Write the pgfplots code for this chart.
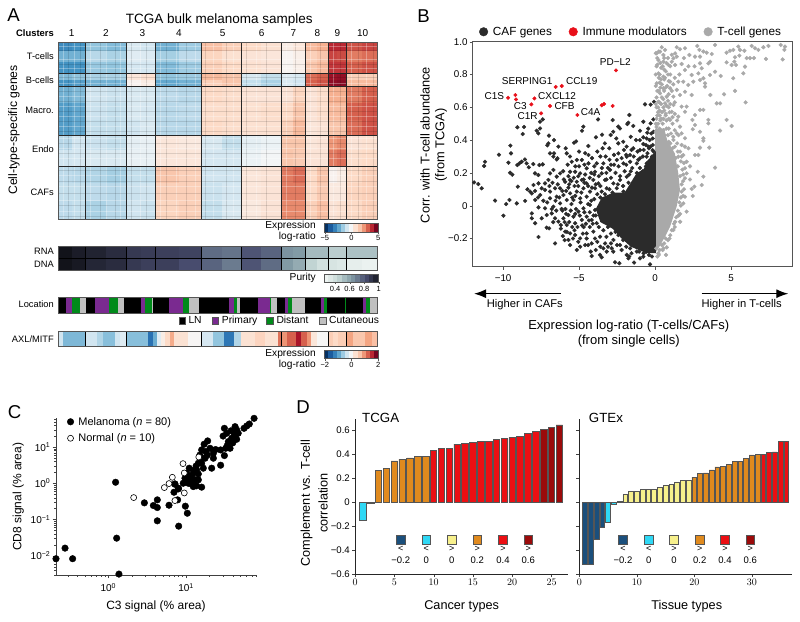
\documentclass[border=0pt]{standalone}
\usepackage{fontspec}
\setmainfont{Liberation Sans}
\usepackage{pgfplots}
\pgfplotsset{compat=1.18}
\usetikzlibrary{arrows.meta}
\definecolor{frame}{HTML}{555555}
\definecolor{caf}{HTML}{2B2B2B}
\definecolor{tcg}{HTML}{A9A9A9}
\definecolor{imm}{HTML}{E8101A}
\definecolor{cNavy}{HTML}{1B4F7C}
\definecolor{cCyan}{HTML}{2FD8F5}
\definecolor{cYel}{HTML}{F7F08C}
\definecolor{cOra}{HTML}{E08A1E}
\definecolor{cRed}{HTML}{EB0F13}
\definecolor{cDark}{HTML}{9B0A0A}
\definecolor{locP}{HTML}{7A2A90}
\definecolor{locG}{HTML}{008A1A}
\definecolor{locC}{HTML}{C0C0C0}
\pgfplotsset{
  colormap={rdbu}{rgb255=(5,48,97) rgb255=(33,102,172) rgb255=(67,147,195) rgb255=(146,197,222) rgb255=(209,229,240) rgb255=(247,247,247) rgb255=(253,219,199) rgb255=(244,165,130) rgb255=(214,96,77) rgb255=(178,24,43) rgb255=(103,0,31)},
  colormap={pur}{rgb255=(250,252,250) rgb255=(200,218,216) rgb255=(130,155,165) rgb255=(72,76,110) rgb255=(12,12,16)},
  base/.style={scale only axis, anchor=south west},
  band/.style={base, xtick=\empty, ytick=\empty, axis on top, axis line style={draw=frame, line width=.8pt}},
  cbar/.style={base, ytick=\empty, axis on top, axis line style={draw=frame, line width=.6pt}, xtick pos=bottom, tick align=outside, major tick length=2pt, tick style={draw=frame}, tick label style={font=\fontsize{7.5}{8}\selectfont, inner sep=1.5pt}, ymin=0, ymax=1},
  dbar/.style={ybar, bar width=.82, bar shift=0pt, fill=#1, draw=frame, line width=.7pt, forget plot},
  dax/.style={base, ymin=-.6, ymax=.6917, axis x line*=bottom, axis y line*=left, axis line style={-, draw=black!85, line width=.7pt}, tick align=outside, major tick length=3pt, tick style={draw=black!75}, tick label style={font=\fontsize{9.6}{10}\selectfont, inner sep=2pt}, ytick={-.6,-.4,-.2,0,.2,.4,.6}},
}
\newcommand\tx[6][]{\node[anchor=#4,inner sep=0pt,font=\fontsize{#5}{#5}\selectfont,#1] at (#2pt,{621pt-#3pt}) {#6};}
\begin{document}
\begin{tikzpicture}
\useasboundingbox (0,0) rectangle (800pt,621pt);
% ---------- panel A heat map ----------
\begin{axis}[band, at={(58.3pt,402pt)}, width=319.4pt, height=177pt, xmin=58.3, xmax=377.7, ymin=42, ymax=219, y dir=reverse, colormap name=rdbu, point meta min=-5, point meta max=5]
\addplot[surf, shader=flat corner, mesh/cols=21, point meta=explicit] table[row sep=\\, header=false, x index=0, y index=1, meta index=2]{
58.3 42 -3.2\\72 42 -3.0\\85.7 42 -2.0\\106.2 42 -2.2\\126.7 42 -0.8\\141.2 42 -1.0\\155.7 42 -2.4\\178.7 42 -1.8\\201.7 42 1.5\\221.7 42 1.2\\241.7 42 1.0\\261.4 42 0.8\\281 42 0.4\\293.4 42 0.6\\305.7 42 1.6\\317 42 1.8\\328.3 42 3.8\\337.5 42 3.8\\346.7 42 3.2\\362.2 42 3.4\\377.7 42 0\\
58.3 51 -2.4\\72 51 -2.4\\85.7 51 -1.4\\106.2 51 -1.6\\126.7 51 -0.6\\141.2 51 -0.7\\155.7 51 -1.7\\178.7 51 -1.3\\201.7 51 1.1\\221.7 51 0.8\\241.7 51 0.7\\261.4 51 0.6\\281 51 0.1\\293.4 51 0.3\\305.7 51 1.2\\317 51 1.4\\328.3 51 3.4\\337.5 51 3.3\\346.7 51 2.6\\362.2 51 2.8\\377.7 51 0\\
58.3 62 -3.0\\72 62 -3.0\\85.7 62 -1.9\\106.2 62 -2.0\\126.7 62 -0.9\\141.2 62 -0.9\\155.7 62 -2.2\\178.7 62 -1.8\\201.7 62 1.2\\221.7 62 1.0\\241.7 62 0.8\\261.4 62 0.7\\281 62 0.1\\293.4 62 0.3\\305.7 62 1.4\\317 62 1.6\\328.3 62 3.6\\337.5 62 3.6\\346.7 62 3.0\\362.2 62 3.2\\377.7 62 0\\
58.3 73.5 -2.2\\72 73.5 -2.0\\85.7 73.5 -1.6\\106.2 73.5 -1.6\\126.7 73.5 0.6\\141.2 73.5 0.8\\155.7 73.5 -2.0\\178.7 73.5 -1.8\\201.7 73.5 1.6\\221.7 73.5 1.4\\241.7 73.5 -0.8\\261.4 73.5 -1.2\\281 73.5 -0.6\\293.4 73.5 -0.8\\305.7 73.5 2.8\\317 73.5 3.0\\328.3 73.5 4.3\\337.5 73.5 4.4\\346.7 73.5 1.2\\362.2 73.5 1.2\\377.7 73.5 0\\
58.3 80 -3.0\\72 80 -2.8\\85.7 80 -2.4\\106.2 80 -2.4\\126.7 80 0.2\\141.2 80 0.4\\155.7 80 -2.6\\178.7 80 -2.4\\201.7 80 1.2\\221.7 80 1.4\\241.7 80 -1.2\\261.4 80 -1.6\\281 80 -0.8\\293.4 80 -1.0\\305.7 80 3.0\\317 80 3.2\\328.3 80 4.5\\337.5 80 4.6\\346.7 80 1.6\\362.2 80 1.6\\377.7 80 0\\
58.3 86.5 -2.4\\72 86.5 -2.2\\85.7 86.5 -1.0\\106.2 86.5 -1.1\\126.7 86.5 -0.8\\141.2 86.5 -0.8\\155.7 86.5 -1.3\\178.7 86.5 -1.4\\201.7 86.5 1.0\\221.7 86.5 0.9\\241.7 86.5 0.7\\261.4 86.5 0.7\\281 86.5 0.7\\293.4 86.5 1.1\\305.7 86.5 0.7\\317 86.5 0.9\\328.3 86.5 1.8\\337.5 86.5 1.8\\346.7 86.5 2.6\\362.2 86.5 3.0\\377.7 86.5 0\\
58.3 103 -2.8\\72 103 -2.6\\85.7 103 -1.1\\106.2 103 -1.2\\126.7 103 -0.8\\141.2 103 -0.9\\155.7 103 -1.4\\178.7 103 -1.3\\201.7 103 0.9\\221.7 103 0.9\\241.7 103 0.8\\261.4 103 0.9\\281 103 1.0\\293.4 103 1.4\\305.7 103 0.7\\317 103 0.9\\328.3 103 1.6\\337.5 103 1.6\\346.7 103 3.0\\362.2 103 3.2\\377.7 103 0\\
58.3 120 -2.8\\72 120 -2.6\\85.7 120 -1.2\\106.2 120 -1.2\\126.7 120 -1.0\\141.2 120 -0.8\\155.7 120 -1.4\\178.7 120 -1.4\\201.7 120 1.0\\221.7 120 0.9\\241.7 120 0.8\\261.4 120 0.8\\281 120 1.2\\293.4 120 1.6\\305.7 120 0.6\\317 120 0.7\\328.3 120 1.4\\337.5 120 1.4\\346.7 120 2.8\\362.2 120 3.2\\377.7 120 0\\
58.3 135 -1.4\\72 135 -1.0\\85.7 135 -1.1\\106.2 135 -1.2\\126.7 135 -0.5\\141.2 135 -0.4\\155.7 135 0.6\\178.7 135 0.5\\201.7 135 -0.8\\221.7 135 -1.2\\241.7 135 -0.5\\261.4 135 -0.3\\281 135 1.4\\293.4 135 1.4\\305.7 135 0.6\\317 135 0.7\\328.3 135 2.2\\337.5 135 2.4\\346.7 135 0.7\\362.2 135 0.8\\377.7 135 0\\
58.3 150 -1.0\\72 150 -0.9\\85.7 150 -0.8\\106.2 150 -0.8\\126.7 150 -0.4\\141.2 150 -0.4\\155.7 150 0.6\\178.7 150 0.6\\201.7 150 -0.9\\221.7 150 -0.9\\241.7 150 -0.3\\261.4 150 -0.1\\281 150 1.4\\293.4 150 1.3\\305.7 150 0.7\\317 150 0.7\\328.3 150 2.6\\337.5 150 2.8\\346.7 150 0.9\\362.2 150 1.0\\377.7 150 0\\
58.3 166 -1.3\\72 166 -1.4\\85.7 166 -1.5\\106.2 166 -1.7\\126.7 166 -1.2\\141.2 166 -1.2\\155.7 166 1.4\\178.7 166 1.2\\201.7 166 -1.0\\221.7 166 -1.0\\241.7 166 0.6\\261.4 166 0.7\\281 166 2.6\\293.4 166 2.8\\305.7 166 1.0\\317 166 1.4\\328.3 166 0.2\\337.5 166 0.4\\346.7 166 1.0\\362.2 166 1.2\\377.7 166 0\\
58.3 183 -1.2\\72 183 -1.2\\85.7 183 -1.3\\106.2 183 -1.4\\126.7 183 -1.1\\141.2 183 -1.0\\155.7 183 1.2\\178.7 183 1.2\\201.7 183 -1.1\\221.7 183 -0.9\\241.7 183 0.6\\261.4 183 0.7\\281 183 2.6\\293.4 183 2.6\\305.7 183 1.0\\317 183 1.3\\328.3 183 0.5\\337.5 183 0.5\\346.7 183 1.1\\362.2 183 1.2\\377.7 183 0\\
58.3 201 -1.3\\72 201 -1.2\\85.7 201 -1.6\\106.2 201 -1.4\\126.7 201 -1.0\\141.2 201 -1.1\\155.7 201 1.1\\178.7 201 1.2\\201.7 201 -1.2\\221.7 201 -0.8\\241.7 201 0.5\\261.4 201 0.7\\281 201 2.4\\293.4 201 2.4\\305.7 201 1.2\\317 201 1.5\\328.3 201 0.7\\337.5 201 0.8\\346.7 201 1.0\\362.2 201 1.2\\377.7 201 0\\
58.3 219 0\\72 219 0\\85.7 219 0\\106.2 219 0\\126.7 219 0\\141.2 219 0\\155.7 219 0\\178.7 219 0\\201.7 219 0\\221.7 219 0\\241.7 219 0\\261.4 219 0\\281 219 0\\293.4 219 0\\305.7 219 0\\317 219 0\\328.3 219 0\\337.5 219 0\\346.7 219 0\\362.2 219 0\\377.7 219 0\\
};
\pgfplotsinvokeforeach{63.3,74,90,106.7,120,140,160,176.7,195,213.3,233.3,256.7,286.7,310,333.3,351.7,366.7}{\draw[white, opacity=.3, line width=.6pt] (axis cs:#1,42)--(axis cs:#1,219);}
\pgfplotsinvokeforeach{68.3,80,100,115,131.7,146.7,166.7,186.7,205,226.7,246.7,266.7,295,320,340,358.3,373.3}{\draw[black, opacity=.12, line width=.6pt] (axis cs:#1,42)--(axis cs:#1,219);}
\pgfplotsinvokeforeach{46,59.3,68.3,83.3,96.7,106.7,116.7,126.7,138.3,148.3,158.3,175,186.7,200,211.7}{\draw[white, opacity=.3, line width=.6pt] (axis cs:58.3,#1)--(axis cs:377.7,#1);}
\pgfplotsinvokeforeach{50,64,77.3,91.7,101.7,111.7,121.7,131.7,143.3,153.3,170,181.7,193.3,205,216.7}{\draw[black, opacity=.12, line width=.6pt] (axis cs:58.3,#1)--(axis cs:377.7,#1);}
\pgfplotsinvokeforeach{85.7,126.7,155.7,201.7,241.7,281,305.7,328.3,346.7}{\draw[line width=.7pt, black!85] (axis cs:#1,42)--(axis cs:#1,219);}
\pgfplotsinvokeforeach{73.5,86.5,135,166}{\draw[line width=.7pt, black!85] (axis cs:58.3,#1)--(axis cs:377.7,#1);}
\end{axis}
% colour bar A
\begin{axis}[cbar, at={(324.3pt,389pt)}, width=54.4pt, height=8.7pt, xmin=-5.1, xmax=5.1, xtick={-5,0,5}, xticklabels={−5,0,5}, colormap name=rdbu, point meta min=-5, point meta max=5]
\addplot[surf, shader=flat corner, mesh/cols=14, point meta=explicit] table[row sep=\\, header=false, x index=0, y index=1, meta index=2]{
-5.1 0 -5\\-4.3 0 -4.2\\-3.5 0 -3.4\\-2.7 0 -2.6\\-2 0 -1.8\\-1.2 0 -1\\-.4 0 -.1\\.4 0 .8\\1.2 0 1.4\\2 0 2.2\\2.7 0 3\\3.5 0 3.8\\4.3 0 4.8\\5.1 0 0\\
-5.1 1 0\\-4.3 1 0\\-3.5 1 0\\-2.7 1 0\\-2 1 0\\-1.2 1 0\\-.4 1 0\\.4 1 0\\1.2 1 0\\2 1 0\\2.7 1 0\\3.5 1 0\\4.3 1 0\\5.1 1 0\\
};
\end{axis}
% purity RNA / DNA
\begin{axis}[band, at={(58.3pt,350.3pt)}, width=319.4pt, height=24.7pt, xmin=58.3, xmax=377.7, ymin=0, ymax=2, y dir=reverse, colormap name=pur, point meta min=.2, point meta max=1]
\addplot[surf, shader=flat corner, mesh/cols=21, point meta=explicit] table[row sep=\\, header=false, x index=0, y index=1, meta index=2]{
58.3 0 .98\\72 0 .95\\85.7 0 .93\\106.2 0 .9\\126.7 0 .86\\141.2 0 .85\\155.7 0 .84\\178.7 0 .83\\201.7 0 .72\\221.7 0 .7\\241.7 0 .78\\261.4 0 .74\\281 0 .62\\293.4 0 .6\\305.7 0 .5\\317 0 .5\\328.3 0 .44\\337.5 0 .44\\346.7 0 .48\\362.2 0 .48\\377.7 0 0\\
58.3 1 .98\\72 1 .96\\85.7 1 .92\\106.2 1 .9\\126.7 1 .86\\141.2 1 .84\\155.7 1 .84\\178.7 1 .8\\201.7 1 .74\\221.7 1 .68\\241.7 1 .78\\261.4 1 .72\\281 1 .6\\293.4 1 .55\\305.7 1 .42\\317 1 .36\\328.3 1 .34\\337.5 1 .32\\346.7 1 .28\\362.2 1 .26\\377.7 1 0\\
58.3 2 0\\72 2 0\\85.7 2 0\\106.2 2 0\\126.7 2 0\\141.2 2 0\\155.7 2 0\\178.7 2 0\\201.7 2 0\\221.7 2 0\\241.7 2 0\\261.4 2 0\\281 2 0\\293.4 2 0\\305.7 2 0\\317 2 0\\328.3 2 0\\337.5 2 0\\346.7 2 0\\362.2 2 0\\377.7 2 0\\
};
\pgfplotsinvokeforeach{85.7,126.7,155.7,201.7,241.7,281,305.7,328.3,346.7}{\draw[line width=.6pt, black] (axis cs:#1,0)--(axis cs:#1,2);}
\draw[line width=.7pt, black] (axis cs:58.3,1)--(axis cs:377.7,1);
\end{axis}
% purity bar
\begin{axis}[cbar, at={(324.3pt,338.7pt)}, width=54.4pt, height=8pt, xmin=.25, xmax=1, xtick={.4,.6,.8,1}, xticklabels={0.4,0.6,0.8,1}, colormap name=pur, point meta min=.2, point meta max=1]
\addplot[surf, shader=flat corner, mesh/cols=13, point meta=explicit] table[row sep=\\, header=false, x index=0, y index=1, meta index=2]{
.25 0 .25\\.31 0 .31\\.37 0 .37\\.43 0 .43\\.5 0 .5\\.56 0 .56\\.62 0 .62\\.68 0 .68\\.75 0 .75\\.81 0 .81\\.87 0 .87\\.93 0 .93\\1 0 0\\
.25 1 0\\.31 1 0\\.37 1 0\\.43 1 0\\.5 1 0\\.56 1 0\\.62 1 0\\.68 1 0\\.75 1 0\\.81 1 0\\.87 1 0\\.93 1 0\\1 1 0\\
};
\end{axis}
% location
\begin{axis}[band, at={(58.3pt,308pt)}, width=319.4pt, height=15.3pt, xmin=58.3, xmax=377.7, ymin=0, ymax=1, unbounded coords=jump]
\addplot[black, line width=15.4pt] coordinates {(58.3,.5)(66.3,.5)(66.3,nan)(85.7,.5)(94.7,.5)(94.7,nan)(124,.5)(141.3,.5)(141.3,nan)(153.3,.5)(169,.5)(169,nan)(199,.5)(229.3,.5)(229.3,nan)(240.3,.5)(258,.5)(258,nan)(277.3,.5)(285.3,.5)(285.3,nan)(304.7,.5)(321.3,.5)(321.3,nan)(327.3,.5)(345.3,.5)(345.3,nan)(346,.5)(362.7,.5)};
\addplot[locP, line width=15.4pt] coordinates {(66.3,.5)(72.3,.5)(72.3,nan)(94.7,.5)(109.3,.5)(109.3,nan)(141.3,.5)(145.3,.5)(145.3,nan)(169,.5)(182.7,.5)(182.7,nan)(229.3,.5)(234,.5)(234,nan)(258,.5)(269.7,.5)(269.7,nan)(285.3,.5)(287.7,.5)(287.7,nan)(321.3,.5)(324,.5)(324,nan)(362.7,.5)(366,.5)};
\addplot[locG, line width=15.4pt] coordinates {(72.3,.5)(80.3,.5)(80.3,nan)(109.3,.5)(118.3,.5)(118.3,nan)(145.3,.5)(152.3,.5)(152.3,nan)(182.7,.5)(188.7,.5)(188.7,nan)(234,.5)(237,.5)(237,nan)(269.7,.5)(271.3,.5)(271.3,nan)(287.7,.5)(292.3,.5)(292.3,nan)(324,.5)(327.3,.5)(327.3,nan)(345.3,.5)(346,.5)(346,nan)(366,.5)(370,.5)};
\addplot[locC, line width=15.4pt] coordinates {(80.3,.5)(85.7,.5)(85.7,nan)(118.3,.5)(124,.5)(124,nan)(152.3,.5)(153.3,.5)(153.3,nan)(188.7,.5)(199,.5)(199,nan)(237,.5)(240.3,.5)(240.3,nan)(271.3,.5)(277.3,.5)(277.3,nan)(292.3,.5)(304.7,.5)(304.7,nan)(370,.5)(377.7,.5)};
\end{axis}
% AXL/MITF
\begin{axis}[band, at={(58.3pt,274.7pt)}, width=319.4pt, height=15.3pt, xmin=58.3, xmax=377.7, ymin=0, ymax=1, colormap name=rdbu, point meta min=-2, point meta max=2]
\addplot[surf, shader=flat corner, mesh/cols=39, point meta=explicit] table[row sep=\\, header=false, x index=0, y index=1, meta index=2]{
58.3 0 -.4\\63.3 0 -.9\\85.7 0 -.4\\96.7 0 -.6\\103.3 0 -.85\\115 0 -.4\\120 0 -.25\\126.7 0 -.85\\148.3 0 -1.5\\153.3 0 -1\\156.7 0 -.25\\161 0 .15\\165 0 .4\\170 0 .75\\174.3 0 .3\\188.3 0 .03\\201.7 0 -.35\\213.3 0 -.8\\224 0 -1.45\\234.3 0 -.6\\241 0 .3\\255 0 .45\\265 0 .3\\278.3 0 1.1\\282.3 0 .9\\286.7 0 1.2\\295.7 0 1.65\\301 0 1.2\\306.7 0 .9\\311 0 .25\\316.7 0 .02\\328.3 0 .5\\333.3 0 .4\\338.3 0 .5\\346.7 0 .8\\353.3 0 .55\\365 0 .8\\371.7 0 .6\\377.7 0 0\\
58.3 1 0\\63.3 1 0\\85.7 1 0\\96.7 1 0\\103.3 1 0\\115 1 0\\120 1 0\\126.7 1 0\\148.3 1 0\\153.3 1 0\\156.7 1 0\\161 1 0\\165 1 0\\170 1 0\\174.3 1 0\\188.3 1 0\\201.7 1 0\\213.3 1 0\\224 1 0\\234.3 1 0\\241 1 0\\255 1 0\\265 1 0\\278.3 1 0\\282.3 1 0\\286.7 1 0\\295.7 1 0\\301 1 0\\306.7 1 0\\311 1 0\\316.7 1 0\\328.3 1 0\\333.3 1 0\\338.3 1 0\\346.7 1 0\\353.3 1 0\\365 1 0\\371.7 1 0\\377.7 1 0\\
};
\pgfplotsinvokeforeach{85.7,126.7,201.7,281,328.3,346.7}{\draw[line width=.6pt, black] (axis cs:#1,0)--(axis cs:#1,1);}
\end{axis}
% colour bar AXL
\begin{axis}[cbar, at={(324.3pt,262.3pt)}, width=54.4pt, height=8.7pt, xmin=-2.04, xmax=2.04, xtick={-2,0,2}, xticklabels={−2,0,2}, colormap name=rdbu, point meta min=-2, point meta max=2]
\addplot[surf, shader=flat corner, mesh/cols=14, point meta=explicit] table[row sep=\\, header=false, x index=0, y index=1, meta index=2]{
-2.04 0 -2\\-1.72 0 -1.68\\-1.4 0 -1.36\\-1.08 0 -1.04\\-.8 0 -.72\\-.48 0 -.4\\-.16 0 -.04\\.16 0 .32\\.48 0 .56\\.8 0 .88\\1.08 0 1.2\\1.4 0 1.52\\1.72 0 1.92\\2.04 0 0\\
-2.04 1 0\\-1.72 1 0\\-1.4 1 0\\-1.08 1 0\\-.8 1 0\\-.48 1 0\\-.16 1 0\\.16 1 0\\.48 1 0\\.8 1 0\\1.08 1 0\\1.4 1 0\\1.72 1 0\\2.04 1 0\\
};
\end{axis}
% ---------- panel B ----------
\begin{axis}[base, at={(472.7pt,354.3pt)}, width=320pt, height=225pt, xmin=-12, xmax=9.06, ymin=-.372, ymax=1,
  axis line style={draw=frame, line width=.8pt}, tick align=outside, major tick length=3pt, tick style={draw=frame}, xtick pos=bottom, ytick pos=left,
  xtick={-10,-5,0,5}, xticklabels={−10,−5,0,5}, ytick={-.2,0,.2,.4,.6,.8,1}, yticklabels={−0.2,0,0.2,0.4,0.6,0.8,1.0},
  tick label style={font=\fontsize{9.8}{10}\selectfont, inner sep=2pt}, xticklabel style={yshift=-3pt},
  legend columns=3, legend cell align=left, legend style={at={(.02,1.012)}, anchor=south west, draw=none, fill=none, font=\fontsize{11.8}{12}\selectfont, /tikz/every even column/.append style={column sep=15pt}, inner sep=0pt},
  legend image post style={mark size=4.3pt}]
\addplot[tcg, fill=tcg, draw=none, forget plot] coordinates {(0,.47)(.6,.47)(.8,.4)(1.3,.319)(1.53,.197)(1.64,.096)(1.42,-.006)(.99,-.128)(.66,-.189)(.22,-.26)(0,-.29)} --cycle;
\addplot[caf, fill=caf, draw=none, forget plot] coordinates {(.05,.33)(-.3,.3)(-.77,.22)(-1.2,.2)(-1.6,.14)(-2,.08)(-2.74,.08)(-3.5,.05)(-3.9,-.02)(-3.6,-.1)(-2.8,-.14)(-2.2,-.2)(-1.6,-.25)(-.55,-.29)(.05,-.29)} --cycle;
\addplot[only marks, mark=*, color=caf, mark size=1.9pt] coordinates {
(-9.06,.478)(-8.62,.48)(-8.71,.437)(-7.79,.457)(-7.57,.471)(-7.68,.441)(-7.57,.512)(-7.39,.526)(-6.98,.427)(-6.65,.4)(-7.02,.38)(-7.09,.368)(-6.36,.36)(-5.88,.35)(-6.65,.319)(-6.91,.319)(-6.47,.282)(-4.72,.482)(-4.81,.457)(-5.33,.384)(-5.2,.392)(-4.39,.364)(-3.89,.417)(-3.75,.526)(-3.49,.433)(-2.79,.522)(-2.92,.431)(-2.75,.451)(-2.42,.482)(-2.31,.471)(-1.82,.498)(-1.76,.506)(-1.69,.553)(-1.43,.486)(-.66,.618)(-.29,.616)(-.07,.634)(-.77,.512)(-.51,.445)(-.77,.417)(-.99,.457)(-.11,.526)(-.29,.502)(-.77,.376)(-.44,.36)(-.16,.339)(-.99,.339)(-1.25,.4)(-2.42,.38)(-3.01,.35)(-2.09,.39)(-1.87,.36)(-1.43,.35)(-1.65,.309)(-.55,.299)(-3.45,.35)
(-9.52,.366)(-9.48,.319)(-10.27,.311)(-9.65,.262)(-11.19,.268)(-11.25,.242)(-9.54,.201)(-9.39,.189)(-11.91,.142)(-11.63,.132)(-11.41,.106)(-8.56,.282)(-8.78,.268)(-9.06,.248)(-8.93,.258)(-8.45,.258)(-8.01,.254)(-7.61,.248)(-7.9,.197)(-7.68,.187)
(-8.31,.234)(-7.39,.252)(-9.03,.116)(-10.53,.031)(-9.58,.035)(-9.8,.01)(-9.1,.014)(-9.98,-.061)(-8.55,.029)(-8.4,.1)(-8.22,.086)(-8,.126)(-7.67,.136)(-7.46,.106)(-8.11,.075)(-7.89,.035)(-7.56,.065)(-7.24,.136)(-6.91,.197)(-6.69,.218)(-6.47,.177)(-7.02,.157)(-6.25,.197)(-6.42,.289)(-6.69,.299)(-5.81,.319)(-5.48,.268)(-5.15,.279)(-4.82,.279)(-4.38,.309)(-4.38,.258)(-3.84,.258)(-3.4,.258)(-5.59,.207)(-5.26,.207)(-4.93,.197)(-4.5,.228)(-3.95,.207)(-3.51,.197)(-2.96,.218)(-2.52,.279)(-2.08,.258)(-1.64,.268)(-1.2,.258)(-.99,.289)(-.55,.258)(-2.41,.319)(-1.86,.299)
(-7.24,.096)(-6.91,.086)(-6.58,.106)(-6.25,.106)(-5.92,.146)(-5.59,.157)(-5.15,.146)(-4.82,.157)(-4.5,.136)(-4.06,.157)(-3.73,.136)(-3.29,.157)(-2.74,.136)(-2.3,.157)(-1.86,.177)(-3.18,.106)(-2.52,.106)(-2.08,.086)(-3.51,.086)(-3.95,.106)(-4.28,.086)(-4.71,.106)(-5.15,.086)(-5.59,.075)(-6.03,.065)(-6.47,.055)(-6.91,.045)(-4.5,.055)(-4.93,.045)(-5.37,.035)(-5.81,.035)(-6.25,.014)(-6.69,-.006)(-7.24,-.016)(-7.67,-.01)(-8.11,-.047)(-8.11,-.077)(-7.89,-.107)(-7.46,-.077)(-7.13,-.057)(-6.8,-.047)(-6.58,-.077)(-6.36,-.097)(-6.03,-.077)(-5.7,-.057)(-5.37,-.067)(-5.04,-.036)(-4.71,-.016)(-4.28,.004)(-3.95,-.026)(-4.5,-.067)(-4.17,-.087)(-3.84,-.107)(-4.82,-.087)(-5.26,-.107)(-5.81,-.118)(-6.2,-.118)(-7.13,-.134)(-6.97,-.138)(-7.67,-.191)(-6.58,-.23)(-6.07,-.185)(-5.92,-.158)(-5.59,-.169)(-5.26,-.179)(-5.7,-.209)(-5.59,-.24)(-5.15,-.27)(-4.93,-.25)(-4.6,-.24)(-4.93,-.199)(-4.5,-.169)(-4.06,-.158)(-3.62,-.189)(-4.17,-.23)(-4.23,-.28)(-4.17,-.307)(-3.62,-.3)(-3.51,-.315)(-3.18,-.28)(-2.85,-.26)(-3.29,-.23)(-2.74,-.209)(-2.41,-.179)(-2.3,-.24)(-1.86,-.3)(-1.75,-.321)(-2.63,-.345)(-2.35,-.351)(-1.38,-.347)(-.33,-.358)(-.99,-.321)(-.77,-.311)(-1.2,-.28)(-.55,-.28)(-1.64,-.26)
(-2.9,.17)(-2.6,.2)(-2.3,.18)(-2,.21)(-1.7,.19)(-1.5,.23)(-1.2,.2)(-1,.23)(-.8,.21)(-.6,.24)(-.4,.27)(-.2,.3)(-.3,.22)(-.1,.33)(-.5,.32)(-.8,.3)(-1.1,.28)(-1.4,.3)(-1.9,.31)(-2.2,.29)(-2.7,.25)(-3.1,.23)(-.15,.37)(-.35,.4)(-.6,.37)(-1,.4)(-.25,.44)(-1.6,.21)(-2.45,.13)(-2.1,.12)(-1.75,.14)(-3,.1)(-2.8,.08)(-3.3,.07)(-3.6,.05)(-3.8,.07)(-4,.04)(-4.2,.03)(-4.4,.01)(-3.9,-.06)(-4.1,-.11)(-4.3,-.04)(-3.7,-.13)(-3.4,-.15)(-3.1,-.13)(-2.9,-.17)(-2.6,-.16)(-3.2,-.19)(-2.9,-.23)(-2.5,-.24)(-2.1,-.21)(-2.2,-.27)(-1.9,-.25)(-1.55,-.29)(-1.05,-.28)(-.75,-.29)(-.4,-.3)(-.2,-.31)(-1.7,-.31)(-2.75,-.28)(-3.4,-.26)(-3.8,-.22)(-4.5,-.2)(-4.7,-.13)(-5.2,-.02)(-5.5,.01)(-5.9,-.02)(-6.1,-.03)(-4.9,.02)(-5.3,.12)(-5.7,.11)(-6,.16)(-6.4,.13)(-4.6,.19)(-4.2,.2)(-3.7,.18)(-3.2,.2)(-5,.24)(-5.5,.15)(-4,.24)(-3.6,.3)(-3,.28)
(-7.9,.09)(-7.7,.05)(-7.35,.03)(-7.1,.02)(-6.95,.12)(-6.75,.14)(-6.55,.03)(-6.3,.05)(-6.1,.09)(-5.85,.09)(-5.65,.13)(-5.45,.05)(-5.25,.06)(-5.05,.12)(-4.85,.08)(-4.65,.14)(-4.4,.12)(-4.15,.11)(-3.9,.13)(-3.6,.12)(-6.8,-.02)(-6.5,-.03)(-6.15,-.02)(-5.85,-.05)(-5.55,-.03)(-5.25,-.05)(-4.95,-.06)(-4.65,-.04)(-4.35,-.09)(-4.05,-.06)(-6.7,-.1)(-6.2,-.14)(-5.95,-.1)(-5.65,-.1)(-5.45,-.13)(-5.1,-.13)(-4.8,-.12)(-4.55,-.11)(-4.3,-.13)(-5.8,-.16)(-5.4,-.2)(-5.05,-.22)(-4.75,-.17)(-4.4,-.24)(-3.95,-.2)(-3.6,-.25)(-3.1,-.25)(-3.9,-.27)(-5.3,-.15)(-5.95,-.21)
(-4.3,.17)(-4,.19)(-3.5,.23)(-3.2,.16)(-4.7,.16)(-5.05,.18)(-5.35,.17)(-5.7,.18)(-6.05,.21)(-5.75,.25)(-5.25,.24)(-4.65,.25)(-4.15,.29)(-3.25,.3)(-2.7,.31)(-2.05,.34)(-1.55,.34)(-1.15,.33)(-.75,.34)(-.4,.35)(-2.4,.24)(-1.9,.25)(-2.9,.25)(-.45,.47)(-.15,.41)(-.3,.36)(-.1,.45)(-.55,.41)(-1.6,.42)(-2.55,.41)(-3.3,.38)(-3.8,.33)(-4.6,.32)(-5,.33)(-5.6,.3)
};
\addlegendentry{\hspace{3pt}CAF genes}
\addplot[only marks, mark=*, color=imm, mark size=1.8pt] coordinates {(-2.57,.825)(-6.54,.724)(-6.14,.73)(-9.67,.658)(-9.19,.675)(-9.15,.648)(-7.94,.654)(-8.14,.618)(-6.91,.608)(-7.5,.563)(-5.11,.553)(-3.51,.612)(-3.36,.62)(-2.79,.608)};
\addlegendentry{\hspace{3pt}Immune modulators}
\addplot[only marks, mark=*, color=tcg, mark size=1.9pt] coordinates {
(3.95,.98)(2.78,.974)(2.92,.95)(3.18,.94)(3.4,.933)(3.73,.925)(4.71,.933)(4.93,.945)(5.15,.95)(5.48,.97)(5.59,.95)(5.88,.945)(6.36,.974)(6.58,.96)(6.8,.95)(7.13,.966)(7.46,.974)(8.27,.98)(8.55,.97)(8.51,.95)(8.4,.892)(7.3,.895)(6.51,.9)(6.25,.9)(6.03,.9)(5.55,.915)(5.26,.905)(4.71,.874)(5.04,.858)(5.33,.858)(5.22,.878)(5.92,.848)(5.81,.807)(5.15,.777)(5.26,.7)(4.54,.679)(3.64,.675)(5.96,.63)(4.28,.624)(4.06,.624)(4.71,.523)(5.04,.486)(4.28,.458)(3.51,.523)(3.51,.502)(3.18,.584)(2.96,.584)(2.63,.553)(2.46,.523)(2.63,.492)(2.48,.466)(2.96,.451)(3.18,.411)(3.18,.395)(3.57,.354)(2.96,.354)(2.63,.309)(2.85,.309)(3.95,.232)(2.81,.207)(3.18,.177)(3.07,.126)(2.59,.116)(2.41,.102)(2.48,.059)(2.08,-.036)(1.86,.014)
(2.96,.909)(3.07,.838)(3.51,.868)(3.62,.878)(2.96,.868)(2.63,.909)(2.26,.919)(1.97,.96)(1.64,.954)(1.43,.966)(1.32,.929)(1.43,.909)(1.21,.899)(1.1,.878)(.66,.95)(.44,.966)(.33,.939)(.55,.919)(.11,.929)(.22,.888)(.55,.878)(.88,.858)(1.32,.858)(1.75,.864)(1.97,.827)(2.41,.797)(2.85,.807)(3.18,.777)(3.29,.746)(3.62,.797)(3.95,.817)(4.32,.791)(2.96,.766)(2.52,.756)(2.19,.736)(3.29,.726)(1.97,.695)(2.41,.675)(1.53,.756)(1.86,.756)(.99,.756)(.55,.787)(.22,.807)(.11,.746)(.55,.716)(.99,.716)(1.43,.706)(1.64,.675)(1.21,.665)(.77,.665)(.33,.685)(.22,.634)(.66,.624)(1.21,.614)(1.75,.604)(2.08,.604)(1.97,.573)(1.1,.573)(1.53,.543)(.99,.523)(1.64,.482)(1.43,.441)(1.75,.441)(1.97,.411)(1.75,.37)(1.97,.36)(1.21,.401)(1.53,.299)(1.86,.309)(2.08,.268)(1.97,.228)(2.08,.197)(1.97,.167)(1.75,.086)(1.97,.055)(1.32,-.098)(1.65,-.098)(1.21,-.148)(.77,-.254)(.72,-.3)(.55,-.26)(.22,-.29)(.07,-.26)
(.1,.6)(.3,.58)(.15,.55)(.4,.53)(.2,.5)(.5,.5)(.1,.48)(.7,.56)(.9,.6)(.55,.6)(.3,.75)(.6,.77)(.8,.73)(.4,.84)(.7,.82)(1,.8)(.15,.86)(.25,.7)(.45,.66)
(.15,.9)(.35,.87)(.6,.83)(.85,.8)(.25,.78)(.45,.74)(.7,.72)(.15,.7)(.4,.62)(.85,.64)(.6,.58)(.2,.57)(.95,.57)(1.3,.56)(.35,.52)(.75,.52)(1.15,.5)(1.45,.52)(.9,.47)(1.3,.46)(.15,.44)(1.05,.44)(1.55,.43)(.9,.39)(1.45,.38)(1.15,.35)(1.65,.33)(1.35,.29)(1.7,.27)(1.5,.24)(1.8,.22)(1.65,.18)(1.85,.15)(1.75,.13)(1.7,.05)(1.6,.02)(1.5,-.03)(1.55,-.06)(1.4,-.07)(1.1,-.15)(1,-.18)(.85,-.21)(.6,-.23)(.45,-.24)(.3,-.27)(.15,-.31)(2.2,.35)(2.3,.24)(2.3,.16)(1.1,.92)(.85,.9)(.6,.9)(1.9,.9)(2.2,.85)(2.6,.85)(1.6,.8)(1.3,.78)
(.05,.93)(.25,.94)(.1,.85)(.3,.8)(.05,.8)(.5,.85)(.75,.87)(1,.85)(.65,.78)(.4,.77)(.9,.76)(1.2,.74)(.05,.73)(.35,.72)(.6,.7)(.9,.68)(1.1,.7)(.1,.66)(.3,.63)(.55,.65)(.75,.61)(1,.62)(1.3,.63)(.05,.62)(.2,.6)(.45,.57)(.7,.55)(.1,.53)(.3,.55)(.55,.53)(.9,.53)(1.15,.54)(.05,.5)(.3,.47)(.55,.46)(.75,.47)(.05,.45)(.3,.44)(.6,.43)(.85,.43)(1.2,.42)(1,.38)(1.3,.36)(1.5,.33)(1.75,.3)(1.9,.26)(1.85,.19)(1.9,.1)(1.85,.06)(1.7,0)(1.65,-.05)(1.25,-.11)(1.3,-.13)(.95,-.2)(.7,-.2)(.5,-.27)(.25,-.3)
};
\addlegendentry{\hspace{3pt}T-cell genes}
\end{axis}
% ---------- panel C ----------
\begin{axis}[base, at={(56pt,46pt)}, width=200.7pt, height=157pt, xmode=log, ymode=log, xmin=.212, xmax=81.3, ymin=.00295, ymax=63,
  axis x line*=bottom, axis y line*=left, axis line style={-, draw=black!75, line width=.7pt}, tick align=outside, major tick length=3.5pt, minor tick length=2pt, tick style={draw=black!75},
  xtick={1,10}, xticklabels={10\textsuperscript{0},10\textsuperscript{1}}, ytick={.01,.1,1,10}, yticklabels={10\textsuperscript{−2},10\textsuperscript{−1},10\textsuperscript{0},10\textsuperscript{1}},
  minor xtick={.3,.4,.5,.6,.7,.8,.9,2,3,4,5,6,7,8,9,20,30,40,50,60,70,80}, minor ytick={.003,.004,.005,.006,.007,.008,.009,.02,.03,.04,.05,.06,.07,.08,.09,.2,.3,.4,.5,.6,.7,.8,.9,2,3,4,5,6,7,8,9,20,30,40,50,60},
  tick label style={font=\fontsize{10}{10}\selectfont, inner sep=2pt}, xticklabel style={yshift=-2.5pt}, clip=false,
  legend cell align=left, legend style={at={(.055,1.02)}, anchor=north west, draw=none, fill=none, font=\fontsize{11}{12}\selectfont, inner sep=0pt, row sep=3pt}]
\addplot[only marks, mark=*, mark size=3.3pt, color=black] coordinates {
(.212,.0083)(.277,.01625)(.347,.0083)(1.24,1.065)(1.28,.0306)(1.37,.00313)(2.91,.288)(3.8,.243)(4.27,.348)(4.27,.214)(4.27,.092)(6.04,.248)(8.05,.0656)(9.8,.233)(10.4,.149)(7.8,.348)(7,.565)(7.97,.698)(7.2,.94)
(75.2,61.7)(65.3,43)(60.4,37.9)(55.8,32.7)(31.2,32.7)(42.8,36.4)(44.9,29.4)(33.4,23.9)(41.5,23.9)(44.9,16.3)(38.7,17.4)(35.1,14.1)(36.9,9.2)(32.4,9.2)(27.9,8.3)(31.2,5.8)(27.9,3.14)(21.4,2.6)(19,14.7)(17.1,11.9)(15.9,8.3)(20.4,9.2)(22.5,6.7)(22.5,4.9)(18.8,6)(17.6,4.9)(15.1,6)(15.9,3.56)(14.4,3.56)(16.7,2.6)(13.7,2.33)(11,2.6)(12.4,2.24)(10.2,1.89)(9.7,1.38)(11.3,1.38)(13.1,1.24)(14.4,1.24)(10.7,1)(12.4,.81)(15.9,.78)(9.2,1)(7.2,.96)(8,.73)(13,2.1)(14.4,1.8)(11.3,1.05)
(24,8.5)(18,7.5)(16,5)(13.5,3)(12,1.7)(10,1.3)(11.8,.95)(13.7,.85)(30,20)(38,28)(40,13)(34,11)(43,20)(47,24)
};
\addlegendentry{\hspace{2.5pt}Melanoma (\textit{n} = 80)}
\addplot[only marks, mark=*, mark size=3pt, mark options={draw=black, line width=.6pt, fill=white}] coordinates {(2.12,.403)(5.26,.76)(6.04,.98)(6.67,1.46)(7.2,.333)(9.5,.54)(9.5,1.92)(9.15,3.48)(14.6,5.3)};
\addlegendentry{\hspace{2.5pt}Normal (\textit{n} = 10)}
\end{axis}
% ---------- panel D ----------
\begin{axis}[dax, at={(355pt,46.7pt)}, width=212.7pt, height=155pt, xmin=0, xmax=27.06, xtick={0,5,10,15,20,25}, yticklabels={−0.6,−0.4,−0.2,0,0.2,0.4,0.6}]
\addplot[dbar=cCyan] coordinates {(1,-.15)(2,-.005)};
\addplot[dbar=cOra] coordinates {(3,.265)(4,.28)(5,.345)(6,.36)(7,.37)(8,.38)(9,.385)};
\addplot[dbar=cRed] coordinates {(10,.435)(11,.45)(12,.45)(13,.485)(14,.49)(15,.5)(16,.505)(17,.51)(18,.525)(19,.535)(20,.54)(21,.55)(22,.575)(23,.59)};
\addplot[dbar=cDark] coordinates {(24,.605)(25,.625)(26,.645)};
\end{axis}
\begin{axis}[dax, at={(579.3pt,46.7pt)}, width=212.4pt, height=155pt, xmin=0, xmax=36.94, xtick={0,10,20,30}, yticklabels={}]
\addplot[dbar=cNavy] coordinates {(1,-.515)(2,-.515)(3,-.305)(4,-.205)};
\addplot[dbar=cCyan] coordinates {(5,-.165)(6,-.015)};
\addplot[dbar=cYel] coordinates {(7,.01)(8,.065)(9,.09)(10,.09)(11,.105)(12,.105)(13,.105)(14,.125)(15,.14)(16,.15)(17,.17)(18,.18)(19,.185)};
\addplot[dbar=cOra] coordinates {(20,.21)(21,.24)(22,.245)(23,.27)(24,.295)(25,.3)(26,.315)(27,.34)(28,.34)(29,.365)(30,.395)(31,.4)};
\addplot[dbar=cRed] coordinates {(32,.4)(33,.415)(34,.42)(35,.505)(36,.51)};
\end{axis}
% ---------- texts ----------
\tx{13.7}{15.5}{center}{18.6}{A}
\tx{423.5}{16}{center}{18.6}{B}
\tx{14.5}{411.7}{center}{18.6}{C}
\tx{303}{406.7}{center}{18.6}{D}
\tx{219.3}{20.7}{mid}{13.5}{TCGA bulk melanoma samples}
\tx{54}{34.3}{mid east}{9.4}{\bfseries Clusters}
\tx{71.7}{34.3}{mid}{10}{1}\tx{106}{34.3}{mid}{10}{2}\tx{142.3}{34.3}{mid}{10}{3}\tx{179}{34.3}{mid}{10}{4}\tx{222.7}{34.3}{mid}{10}{5}\tx{261.7}{34.3}{mid}{10}{6}\tx{293.3}{34.3}{mid}{10}{7}\tx{317.3}{34.3}{mid}{10}{8}\tx{337.3}{34.3}{mid}{10}{9}\tx{362.7}{34.3}{mid}{10}{10}
\tx{54}{57.3}{mid east}{9.3}{T-cells}\tx{54}{81}{mid east}{9.3}{B-cells}\tx{54}{110.7}{mid east}{9.3}{Macro.}\tx{54}{150}{mid east}{9.3}{Endo}\tx{54}{193.3}{mid east}{9.3}{CAFs}
\tx[rotate=90]{14}{130}{center}{12.2}{Cell-type-specific genes}
\tx{316}{226}{mid east}{10.2}{Expression}\tx{316}{236.7}{mid east}{10.2}{log-ratio}
\tx{54}{251.7}{mid east}{9.3}{RNA}\tx{54}{265}{mid east}{9.3}{DNA}
\tx{316}{278.3}{mid east}{10.2}{Purity}
\tx{54}{305}{mid east}{9.3}{Location}
\tx{54}{340}{mid east}{9.3}{AXL/MITF}
\tx{316}{354.3}{mid east}{10.2}{Expression}\tx{316}{365.3}{mid east}{10.2}{log-ratio}
\foreach \xa/\c/\xt/\s in {179/black/188.3/LN,212/locP/221.7/Primary,266.7/locG/276.3/Distant,319.3/locC/329/Cutaneous}{
  \fill[\c] (\xa pt,{621pt-324pt}) rectangle ({\xa pt+6.7pt},{621pt-317pt});
  \draw[frame,line width=.5pt] (\xa pt,{621pt-324pt}) rectangle ({\xa pt+6.7pt},{621pt-317pt});
  \tx{\xt}{320.7}{mid west}{10.3}{\s}
}
% B texts
\tx{615.3}{63.3}{mid}{10}{PD−L2}\tx{552.7}{82}{mid east}{10}{SERPING1}\tx{566}{82}{mid west}{10}{CCL19}\tx{504.3}{97}{mid east}{10}{C1S}\tx{538}{97}{mid west}{10}{CXCL12}\tx{520.3}{106.7}{mid}{10}{C3}\tx{554.3}{107}{mid west}{10}{CFB}\tx{527.7}{116.7}{mid}{10}{C1R}\tx{580.7}{113}{mid west}{10}{C4A}
\tx[rotate=90]{425}{145}{center}{12.8}{Corr. with T-cell abundance}
\tx[rotate=90]{441}{145}{center}{12.8}{(from TCGA)}
\tx{628.7}{326.7}{mid}{13}{Expression log-ratio (T-cells/CAFs)}
\tx{628.7}{342.3}{mid}{13}{(from single cells)}
\tx{486.7}{305}{mid west}{11.2}{Higher in CAFs}
\tx{701.3}{305}{mid west}{11.2}{Higher in T-cells}
\draw[black,line width=1.3pt,-{Latex[length=12pt,width=9pt]}] (561pt,{621pt-293.7pt})--(474pt,{621pt-293.7pt});
\draw[black,line width=1.3pt,-{Latex[length=12pt,width=9pt]}] (701.7pt,{621pt-293.7pt})--(788.3pt,{621pt-293.7pt});
% C texts
\tx{156}{606.7}{mid}{12}{C3 signal (\% area)}
\tx[rotate=90]{18.3}{496.7}{center}{12}{CD8 signal (\% area)}
% D texts
\tx[rotate=90]{306.7}{503}{center}{12.7}{Complement vs. T-cell}
\tx[rotate=90]{323}{503}{center}{12.7}{correlation}
\tx{362}{420}{mid west}{13.3}{TCGA}
\tx{588.7}{420}{mid west}{13.3}{GTEx}
\tx{461.7}{607.3}{mid}{12.7}{Cancer types}
\tx{686.7}{607.3}{mid}{12.7}{Tissue types}
\foreach \xc/\c/\sy/\v in {400.7/cNavy/</−0.2,426.3/cCyan/</0,451.7/cYel/>/0,477.3/cOra/>/0.2,503/cRed/>/0.4,528.3/cDark/>/0.6,623/cNavy/</−0.2,648.7/cCyan/</0,674/cYel/>/0,699.7/cOra/>/0.2,725/cRed/>/0.4,750.3/cDark/>/0.6}{
  \fill[\c] ({\xc pt-4.4pt},{621pt-544.4pt}) rectangle ({\xc pt+4.4pt},{621pt-535.6pt});
  \draw[frame,line width=.6pt] ({\xc pt-4.4pt},{621pt-544.4pt}) rectangle ({\xc pt+4.4pt},{621pt-535.6pt});
  \tx{\xc}{549.3}{mid}{9}{\sy}
  \tx{\xc}{561}{mid}{9.5}{\v}
}
\end{tikzpicture}
\end{document}
